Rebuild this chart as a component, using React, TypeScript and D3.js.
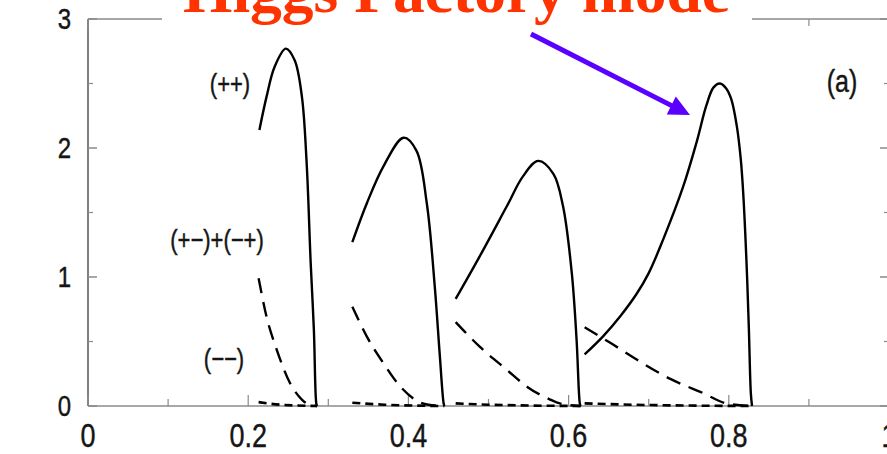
import React from "react";
import * as d3 from "d3";

type P = [number, number];

// (++) solid curves, one per beam energy
const pp1: P[] = [[0.214, 2.14], [0.223, 2.4], [0.233, 2.63], [0.247, 2.77], [0.258, 2.68], [0.267, 2.4], [0.273, 1.88], [0.278, 1.11], [0.282, 0.59], [0.285, 0.02], [0.286, 0]];
const pp2: P[] = [[0.33, 1.27], [0.348, 1.57], [0.369, 1.86], [0.394, 2.08], [0.41, 1.98], [0.423, 1.57], [0.433, 0.92], [0.439, 0.41], [0.444, 0.02], [0.445, 0]];
const pp3: P[] = [[0.459, 0.83], [0.489, 1.16], [0.523, 1.55], [0.543, 1.78], [0.562, 1.9], [0.581, 1.8], [0.593, 1.55], [0.604, 1.03], [0.61, 0.51], [0.614, 0.02], [0.615, 0]];
const pp4: P[] = [[0.62, 0.4], [0.643, 0.54], [0.665, 0.7], [0.685, 0.87], [0.7, 1.03], [0.718, 1.29], [0.743, 1.7], [0.76, 2.05], [0.772, 2.33], [0.781, 2.47], [0.789, 2.5], [0.797, 2.46], [0.803, 2.38], [0.81, 2.17], [0.815, 1.91], [0.818, 1.65], [0.822, 1.13], [0.825, 0.61], [0.8275, 0.1], [0.829, 0]];

// (+-)+(-+) long-dashed curves
const pm1: P[] = [[0.213, 0.99], [0.223, 0.69], [0.236, 0.43], [0.252, 0.18], [0.267, 0.05], [0.273, 0.02], [0.286, 0]];
const pm2: P[] = [[0.33, 0.77], [0.348, 0.54], [0.369, 0.33], [0.39, 0.15], [0.414, 0.03], [0.425, 0.01], [0.445, 0]];
const pm3: P[] = [[0.459, 0.65], [0.489, 0.46], [0.523, 0.28], [0.548, 0.15], [0.577, 0.05], [0.589, 0.02], [0.615, 0]];
const pm4: P[] = [[0.62, 0.61], [0.652, 0.49], [0.685, 0.36], [0.727, 0.21], [0.768, 0.1], [0.797, 0.02], [0.83, 0]];

// (--) short-dashed curves
const mm1: P[] = [[0.213, 0.03], [0.24, 0.01], [0.286, 0]];
const mm2: P[] = [[0.33, 0.025], [0.37, 0.01], [0.445, 0]];
const mm3: P[] = [[0.459, 0.02], [0.5, 0.01], [0.615, 0]];
const mm4: P[] = [[0.62, 0.02], [0.68, 0.01], [0.83, 0]];

const xTickLabels = [0, 0.2, 0.4, 0.6, 0.8, 1];
const xMinorTicks = [0.1, 0.3, 0.5, 0.7, 0.9];
const yTickLabels = [0, 1, 2, 3];
const yMinorTicks = [0.5, 1.5, 2.5];

const W = 887;
const H = 454;

export default function App() {
  const x = d3.scaleLinear().domain([0, 1]).range([88, 889]);
  const y = d3.scaleLinear().domain([0, 3]).range([406, 19]);
  const line = d3
    .line<P>()
    .x((d) => x(d[0]))
    .y((d) => y(d[1]))
    .curve(d3.curveCatmullRom.alpha(0.5));
  const flat = d3
    .line<P>()
    .x((d) => x(d[0]))
    .y((d) => y(d[1]))
    .curve(d3.curveMonotoneX);

  const solids = [pp1, pp2, pp3, pp4];
  const longs = [pm1, pm2, pm3, pm4];
  const shorts = [mm1, mm2, mm3, mm4];

  const font = "'Liberation Sans', Arial, sans-serif";
  const axisCol = "#8a8a8a";

  // arrow geometry
  const ax0 = 531, ay0 = 34, ax1 = 690, ay1 = 115;
  const len = Math.hypot(ax1 - ax0, ay1 - ay0);
  const ux = (ax1 - ax0) / len, uy = (ay1 - ay0) / len;
  const hl = 21, hw = 10;
  const bx = ax1 - ux * hl, by = ay1 - uy * hl;
  const head = `M${ax1},${ay1} L${bx - uy * hw},${by + ux * hw} L${bx + uy * hw},${by - ux * hw} Z`;

  const T = (
    key: string,
    tx: number,
    ty: number,
    s: string,
    size: number,
    anchor: "start" | "middle" | "end",
    sy = 1.2
  ) => (
    <text
      key={key}
      transform={`translate(${tx},${ty}) scale(1,${sy})`}
      textAnchor={anchor}
      fontFamily={font}
      fontSize={size}
      fill="#151515"
      stroke="#151515"
      strokeWidth={0.35}
    >
      {s}
    </text>
  );

  return (
    <svg
      width={W}
      height={H}
      style={{ position: "absolute", left: 0, top: 0, background: "#fff" }}
    >
      <rect x={0} y={0} width={W} height={H} fill="#fff" />
      {/* frame */}
      <line x1={x(0)} x2={x(1)} y1={y(0)} y2={y(0)} stroke="#a8a8a8" strokeWidth={2} />
      <line x1={x(0)} x2={x(1)} y1={y(3)} y2={y(3)} stroke={axisCol} strokeWidth={1.5} />
      <line x1={x(0)} x2={x(0)} y1={y(0)} y2={y(3)} stroke="#555" strokeWidth={1.5} />
      <line x1={x(1)} x2={x(1)} y1={y(0)} y2={y(3)} stroke="#555" strokeWidth={1.5} />

      {/* y ticks */}
      {yTickLabels.map((v) => (
        <g key={"yt" + v}>
          <line x1={x(0)} x2={x(0) + 9} y1={y(v)} y2={y(v)} stroke={axisCol} strokeWidth={1.5} />
          <line x1={x(1)} x2={x(1) - 9} y1={y(v)} y2={y(v)} stroke={axisCol} strokeWidth={1.5} />
          {T("yl" + v, 71, y(v) + 10, String(v), 24, "end")}
        </g>
      ))}
      {yMinorTicks.map((v) => (
        <g key={"ym" + v}>
          <line x1={x(0)} x2={x(0) + 5} y1={y(v)} y2={y(v)} stroke={axisCol} strokeWidth={1.2} />
          <line x1={x(1)} x2={x(1) - 5} y1={y(v)} y2={y(v)} stroke={axisCol} strokeWidth={1.2} />
        </g>
      ))}
      {/* x ticks */}
      {xTickLabels.map((v) => (
        <g key={"xt" + v}>
          <line x1={x(v)} x2={x(v)} y1={y(0)} y2={y(0) - 11} stroke={axisCol} strokeWidth={1.2} />
          <line x1={x(v)} x2={x(v)} y1={y(3)} y2={y(3) + 11} stroke={axisCol} strokeWidth={1.2} />
          {T("xl" + v, x(v), 447, v === 0 ? "0" : v === 1 ? "1" : d3.format(".1f")(v), 27, "middle")}
        </g>
      ))}
      {xMinorTicks.map((v) => (
        <g key={"xm" + v}>
          <line x1={x(v)} x2={x(v)} y1={y(0)} y2={y(0) - 7} stroke={axisCol} strokeWidth={1.2} />
          <line x1={x(v)} x2={x(v)} y1={y(3)} y2={y(3) + 7} stroke={axisCol} strokeWidth={1.2} />
        </g>
      ))}

      {/* curves */}
      {shorts.map((d, i) => (
        <path key={"s" + i} d={flat(d) || ""} fill="none" stroke="#000" strokeWidth={2.6} strokeDasharray="8 5" />
      ))}
      {longs.map((d, i) => (
        <path key={"l" + i} d={flat(d) || ""} fill="none" stroke="#000" strokeWidth={2.4} strokeDasharray="15 9" />
      ))}
      {solids.map((d, i) => (
        <path key={"p" + i} d={line(d) || ""} fill="none" stroke="#000" strokeWidth={2.4} />
      ))}

      {/* labels */}
      {T("lpp", 230, 93, "(++)", 22, "middle", 1.25)}
      {T("lpm", 217, 249, "(+−)+(−+)", 22, "middle", 1.25)}
      {T("lmm", 224, 368, "(−−)", 22, "middle", 1.25)}
      {T("la", 842, 92, "(a)", 25, "middle", 1.25)}

      {/* title box and title */}
      <rect x={162} y={0} width={590} height={36} fill="#fff" />
      <text
        x={183}
        y={12}
        fontFamily="'Liberation Serif', 'Times New Roman', serif"
        fontWeight="bold"
        fontSize={62}
        fill="#ff3300"
        textLength={547}
        lengthAdjust="spacingAndGlyphs"
      >
        Higgs Factory mode
      </text>

      {/* arrow */}
      <line x1={ax0} y1={ay0} x2={bx + ux * 2} y2={by + uy * 2} stroke="#5a00ff" strokeWidth={5} />
      <path d={head} fill="#5a00ff" />
    </svg>
  );
}
